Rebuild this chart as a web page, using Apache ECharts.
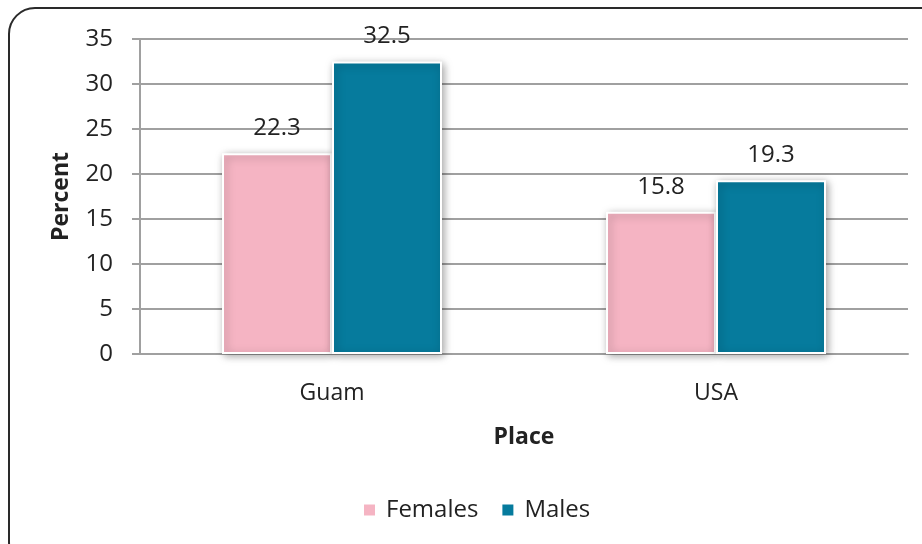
<!DOCTYPE html>
<html>
<head>
<meta charset="utf-8">
<script src="https://cdn.jsdelivr.net/npm/echarts@6/dist/echarts.min.js"></script>
<style>html,body{margin:0;padding:0;background:#fff;}#c{width:922px;height:544px;}</style>
</head>
<body>
<div id="c"></div>
<script>
const categories = ['Guam', 'USA'];
const females = [22.3, 15.8];
const males = [32.5, 19.3];
const yTicks = [0, 5, 10, 15, 20, 25, 30, 35];

const FONT = 'Open Sans';
const chart = echarts.init(document.getElementById('c'), null, {renderer: 'canvas'});
const barStyle = (color) => ({
  color: color,
  borderColor: '#ffffff',
  borderWidth: 2,
  shadowBlur: 8,
  shadowOffsetX: 2,
  shadowOffsetY: 2,
  shadowColor: 'rgba(0,0,0,0.35)'
});
const labelCfg = {
  show: true,
  position: 'top',
  distance: 13,
  fontFamily: FONT,
  fontSize: 24,
  color: '#222'
};
chart.setOption({
  animation: false,
  graphic: [{
    type: 'rect',
    shape: {x: 9, y: 8, width: 940, height: 560, r: 26},
    style: {fill: 'none', stroke: '#2a2a2a', lineWidth: 2},
    z: -1
  }],
  grid: {left: 140, right: 14, top: 39, bottom: 190, containLabel: false},
  legend: {
    data: ['Females', 'Males'],
    left: 357,
    top: 493,
    itemWidth: 13,
    itemHeight: 13,
    itemGap: 22,
    icon: 'rect',
    textStyle: {fontFamily: FONT, fontSize: 24, color: '#222', padding: [0, 0, 0, 5]}
  },
  xAxis: {
    type: 'category',
    data: categories,
    name: 'Place',
    nameLocation: 'middle',
    nameGap: 72,
    nameTextStyle: {fontFamily: FONT, fontSize: 23, fontWeight: 'bold', color: '#222'},
    axisLine: {lineStyle: {color: '#a0a0a0', width: 2}},
    axisTick: {show: false},
    axisLabel: {fontFamily: FONT, fontSize: 23, color: '#222', margin: 28}
  },
  yAxis: {
    type: 'value',
    min: 0, max: 35, interval: 5,
    name: 'Percent',
    nameLocation: 'middle',
    nameGap: 67,
    nameTextStyle: {fontFamily: FONT, fontSize: 23, fontWeight: 'bold', color: '#222'},
    axisLine: {show: true, lineStyle: {color: '#a0a0a0', width: 2}},
    axisTick: {show: true, length: 8, lineStyle: {color: '#a0a0a0', width: 2}},
    axisLabel: {
      fontFamily: FONT, fontSize: 24, color: '#222', margin: 27,
      formatter: (v) => yTicks.includes(v) ? String(v) : ''
    },
    splitLine: {lineStyle: {color: '#a0a0a0', width: 2}}
  },
  series: [
    {name: 'Females', type: 'bar', data: females, barWidth: 110, barGap: '0%',
     itemStyle: barStyle('#F5B4C3'), label: labelCfg},
    {name: 'Males', type: 'bar', data: males, barWidth: 110, barGap: '0%',
     itemStyle: barStyle('#067B9D'), label: labelCfg}
  ]
});
</script>
</body>
</html>
